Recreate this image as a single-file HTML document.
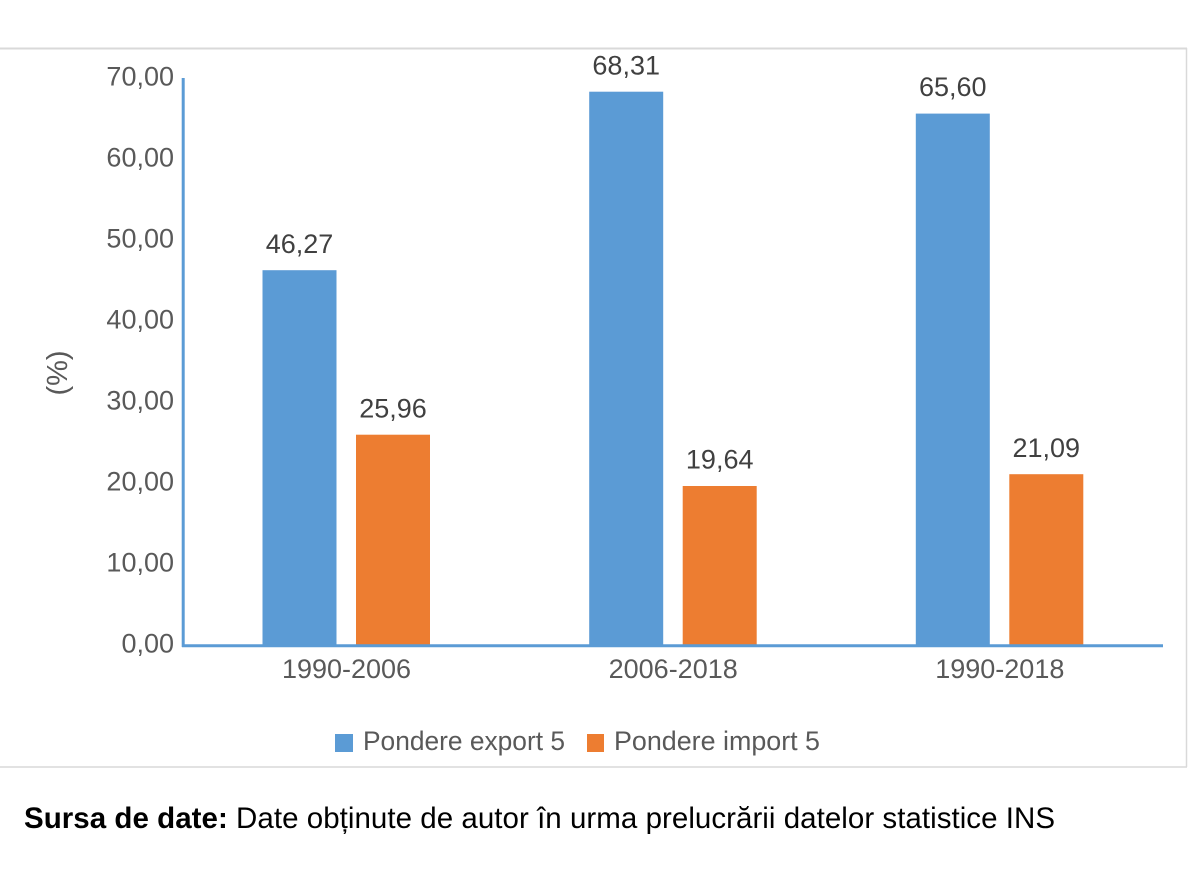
<!DOCTYPE html>
<html><head><meta charset="utf-8"><style>
html,body{margin:0;padding:0;background:#fff;}
svg{display:block;}
text{font-family:"Liberation Sans",Arial,sans-serif;}
</style></head><body>
<svg width="1200" height="872" viewBox="0 0 1200 872" xmlns="http://www.w3.org/2000/svg">
<rect width="1200" height="872" fill="#fff"/>
<!-- chart border -->
<line x1="0" y1="48.5" x2="1187" y2="48.5" stroke="#d9d9d9" stroke-width="2"/>
<line x1="1186.5" y1="48" x2="1186.5" y2="767" stroke="#d9d9d9" stroke-width="1.5"/>
<line x1="0" y1="767" x2="1187" y2="767" stroke="#d9d9d9" stroke-width="1.5"/>

<!-- bars -->
<g fill="#5b9bd5">
<rect x="262.5" y="270.2" width="74" height="374.8"/>
<rect x="589.2" y="91.7" width="74" height="553.3"/>
<rect x="915.8" y="113.6" width="74" height="531.4"/>
</g>
<g fill="#ed7d31">
<rect x="356" y="434.7" width="74" height="210.3"/>
<rect x="682.7" y="486.0" width="74" height="159.0"/>
<rect x="1009.3" y="474.2" width="74" height="170.8"/>
</g>

<!-- axes -->
<line x1="183.2" y1="78" x2="183.2" y2="647" stroke="#5b9bd5" stroke-width="3"/>
<line x1="182" y1="645.7" x2="1163" y2="645.7" stroke="#5b9bd5" stroke-width="3"/>

<!-- y tick labels -->
<g fill="#595959" font-size="27" text-anchor="end">
<text x="174" y="85.5">70,00</text>
<text x="174" y="166.5">60,00</text>
<text x="174" y="247.5">50,00</text>
<text x="174" y="328.5">40,00</text>
<text x="174" y="409.5">30,00</text>
<text x="174" y="490.5">20,00</text>
<text x="174" y="571.5">10,00</text>
<text x="174" y="652.5">0,00</text>
</g>

<!-- y axis title -->
<text transform="translate(67,373) rotate(-90)" fill="#595959" font-size="29" text-anchor="middle">(%)</text>

<!-- data labels -->
<g fill="#404040" font-size="27" text-anchor="middle">
<text x="299.5" y="253">46,27</text>
<text x="626.2" y="74.3">68,31</text>
<text x="952.8" y="96.2">65,60</text>
<text x="393" y="417.3">25,96</text>
<text x="719.7" y="468.6">19,64</text>
<text x="1046.3" y="456.8">21,09</text>
</g>

<!-- category labels -->
<g fill="#595959" font-size="27" text-anchor="middle">
<text x="346.5" y="678">1990-2006</text>
<text x="673.2" y="678">2006-2018</text>
<text x="999.8" y="678">1990-2018</text>
</g>

<!-- legend -->
<rect x="335" y="734" width="18" height="18" fill="#5b9bd5"/>
<text x="363" y="750" fill="#595959" font-size="26.5" textLength="202" lengthAdjust="spacingAndGlyphs">Pondere export 5</text>
<rect x="587" y="734" width="17" height="18" fill="#ed7d31"/>
<text x="614" y="750" fill="#595959" font-size="26.5" textLength="206" lengthAdjust="spacingAndGlyphs">Pondere import 5</text>

<!-- source -->
<text x="24" y="828" fill="#000" font-size="29.5" textLength="1031" lengthAdjust="spacing"><tspan font-weight="bold">Sursa de date:</tspan> Date obținute de autor în urma prelucrării datelor statistice INS</text>
</svg>
</body></html>
